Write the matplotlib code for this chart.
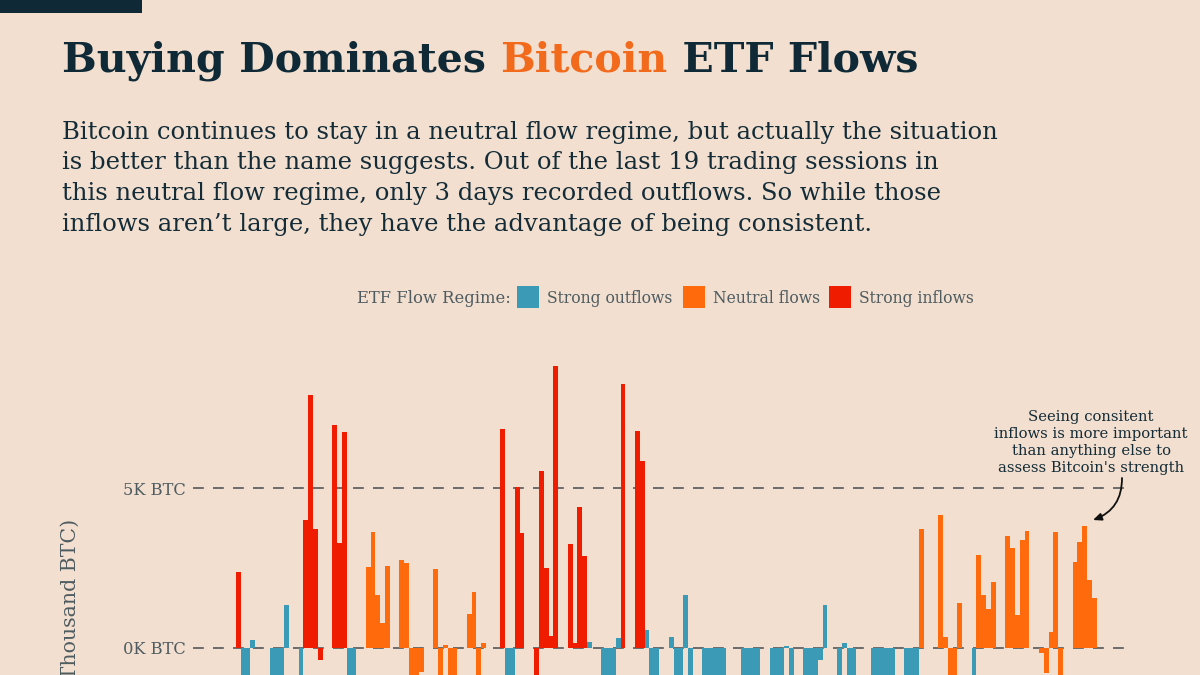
import matplotlib
matplotlib.use("Agg")
import matplotlib.pyplot as plt
from matplotlib.patches import Rectangle

# ---------------- data (thousand BTC per trading day) ----------------
flows = [
    2.39, -1.5, -1.2, 0.24, 0, 0, 0, -1.0, -1.4, -1.1,
    1.33, 0, 0, -0.9, 3.99, 7.91, 3.73, -0.39, 0, 0,
    6.97, 3.27, 6.76, -1.6, -1.3, 0, 0, 2.53, 3.62, 1.66,
    0.77, 2.56, 0, 0, 2.75, 2.67, -1.2, -1.0, -0.74, 0,
    0, 2.47, -1.1, 0.10, -1.3, -1.0, 0, 0, 1.06, 1.76,
    -0.9, 0.15, 0, 0, 0, 6.83, -1.4, -1.2, 5.03, 3.58,
    0, 0, -1.1, 5.52, 2.51, 0.36, 8.82, 0, 0, 3.24,
    0.16, 4.40, 2.86, 0.19, 0, 0, -1.5, -1.3, -1.0, 0.31,
    8.25, 0, 0, 6.77, 5.85, 0.57, -1.2, -1.0, 0, 0,
    0.33, -1.4, -1.1, 1.66, -0.9, 0, 0, -1.3, -1.5, -1.2,
    -1.4, -1.1, 0, 0, 0, -1.2, -1.4, -1.0, -1.3, 0,
    0, -1.5, -1.2, -1.1, 0.05, -1.0, 0, 0, -1.3, -1.6,
    -1.2, -0.38, 1.34, 0, 0, -1.1, 0.15, -1.2, -1.4, 0,
    0, 0, -1.5, -1.3, -1.4, -1.2, -1.1, 0, 0, -1.4,
    -1.2, -1.0, 3.72, 0, 0, 0, 4.17, 0.33, -1.2, -1.0,
    1.42, 0, 0, -1.1, 2.90, 1.65, 1.22, 2.05, 0, 0,
    3.51, 3.11, 1.04, 3.39, 3.67, 0, 0, -0.17, -0.77, 0.49,
    3.63, -1.2, 0, 0, 2.68, 3.31, 3.80, 2.12, 1.57,
]
regimes = list(
    "RBBBBBBBBB"
    "BBBBRRRRRR"
    "RRRBBBBOOO"
    "OOOOOOOOOO"
    "OOOOOOOOOO"
    "OOOOORBBRR"
    "RRRRRRRRRR"
    "RRRBBBBBBB"
    "RRRRRBBBBB"
    "BBBBBBBBBB"
    "BBBBBBBBBB"
    "BBBBBBBBBB"
    "BBBBBBBBBB"
    "BBBBBBBBBB"
    "BBOOOOOOOO"
    "OOOBOOOOOO"
    "OOOOOOOOOO"
    "OOOOOOOOO"
)
regime_codes = ["B", "O", "R"]
regime_names = {"B": "Strong outflows", "O": "Neutral flows", "R": "Strong inflows"}
ytick_values = [0, 5]
ytick_labels = ["0K BTC", "5K BTC"]

title_parts = ["Buying Dominates ", "Bitcoin", " ETF Flows"]
subtitle_lines = [
    "Bitcoin continues to stay in a neutral flow regime, but actually the situation",
    "is better than the name suggests. Out of the last 19 trading sessions in",
    "this neutral flow regime, only 3 days recorded outflows. So while those",
    "inflows aren\u2019t large, they have the advantage of being consistent.",
]
note_lines = ["Seeing consitent", "inflows is more important",
              "than anything else to", "assess Bitcoin's strength"]
ylabel_text = "Net Flows (Thousand BTC)"

# ---------------- style ----------------
W, H = 1200, 675
BG = "#f2dfcf"
NAVY = "#0f2a36"
TXT = "#142c38"
GRAY = "#4e5c61"
GRID = "#56585a"
COLORS = {"B": "#3b9ab6", "O": "#ff6a0c", "R": "#f01c00"}
SERIF = "DejaVu Serif"

fig = plt.figure(figsize=(W / 100, H / 100), dpi=100, facecolor=BG)
renderer = fig.canvas.get_renderer()


def fy(px):
    return 1 - px / H


def fit_size(s, target_w, weight="normal", base=20):
    t = fig.text(0, 0, s, fontsize=base, family=SERIF, weight=weight)
    w = t.get_window_extent(renderer=renderer).width
    t.remove()
    return base * target_w / w


# top-left dark block
fig.patches.append(Rectangle((0, fy(13)), 142 / W, 13 / H, transform=fig.transFigure,
                             facecolor=NAVY, edgecolor="none"))

# title in three colored parts
tsize = fit_size("".join(title_parts), 856, weight="bold")
x = 62
for part, col in zip(title_parts, [NAVY, "#f26a1b", NAVY]):
    t = fig.text(x / W, fy(71.5), part, fontsize=tsize, family=SERIF, weight="bold",
                 color=col, ha="left", va="baseline")
    x += t.get_window_extent(renderer=renderer).width

# subtitle
ssize = fit_size(subtitle_lines[0], 931)
for k, line in enumerate(subtitle_lines):
    fig.text(62 / W, fy(138.5 + 31 * k), line, fontsize=ssize, family=SERIF,
             color=TXT, ha="left", va="baseline")

# legend
lsize = fit_size("ETF Flow Regime:", 153)
fig.text(357 / W, fy(303), "ETF Flow Regime:", fontsize=lsize, family=SERIF,
         color=GRAY, ha="left", va="baseline")
legend_sq_px = [517, 683, 829]
name_size = fit_size(regime_names["B"], 126)
for code, sx in zip(regime_codes, legend_sq_px):
    fig.patches.append(Rectangle((sx / W, fy(308)), 22 / W, 22 / H, transform=fig.transFigure,
                                 facecolor=COLORS[code], edgecolor="none"))
    fig.text((sx + 30) / W, fy(303), regime_names[code], fontsize=name_size, family=SERIF,
             color=GRAY, ha="left", va="baseline")

# ---------------- axes ----------------
pitch = 4.808
xc0 = 238.4
ax_left_px, ax_right_px = 193, 1130
ax_top_px, ax_bot_px = 350, 744
zero_px, ppu = 648, 32.0
ax = fig.add_axes([ax_left_px / W, (H - ax_bot_px) / H,
                   (ax_right_px - ax_left_px) / W, (ax_bot_px - ax_top_px) / H])
ax.set_facecolor("none")
ax.set_xlim((ax_left_px - xc0) / pitch, (ax_right_px - xc0) / pitch)
ax.set_ylim((zero_px - ax_bot_px) / ppu, (zero_px - ax_top_px) / ppu)

xs = list(range(len(flows)))
ax.bar(xs, flows, width=1.0, color=[COLORS[r] for r in regimes], linewidth=0, zorder=3)

for v in ytick_values:
    ax.axhline(v, color=GRID, lw=1.2, dashes=(6.5, 5.5), zorder=2)

for sp in ax.spines.values():
    sp.set_visible(False)
ax.set_xticks([])
ax.set_yticks(ytick_values)
ax.set_yticklabels(ytick_labels, family=SERIF, color=GRAY, fontsize=fit_size("5K BTC", 63))
ax.tick_params(axis="y", length=0, pad=5)

fig.text(70 / W, fy(519), ylabel_text, rotation=90, family=SERIF,
         fontsize=fit_size("Thousand BTC)", 160), color=GRAY, ha="center", va="top")

# annotation
nsize = fit_size(note_lines[1], 193)
for k, line in enumerate(note_lines):
    fig.text(1091 / W, fy(421 + 17 * k), line, fontsize=nsize, family=SERIF,
             color=TXT, ha="center", va="baseline")

tip = ((1093 - xc0) / pitch, (zero_px - 520) / ppu)
tail = ((1122 - xc0) / pitch, (zero_px - 478) / ppu)
ax.annotate("", xy=tip, xytext=tail, annotation_clip=False,
            arrowprops=dict(arrowstyle="-|>,head_length=0.5,head_width=0.22",
                            connectionstyle="arc3,rad=-0.35", color="#111111", lw=1.3,
                            shrinkA=0, shrinkB=0))

fig.savefig("out.png", dpi=100, facecolor=BG)
